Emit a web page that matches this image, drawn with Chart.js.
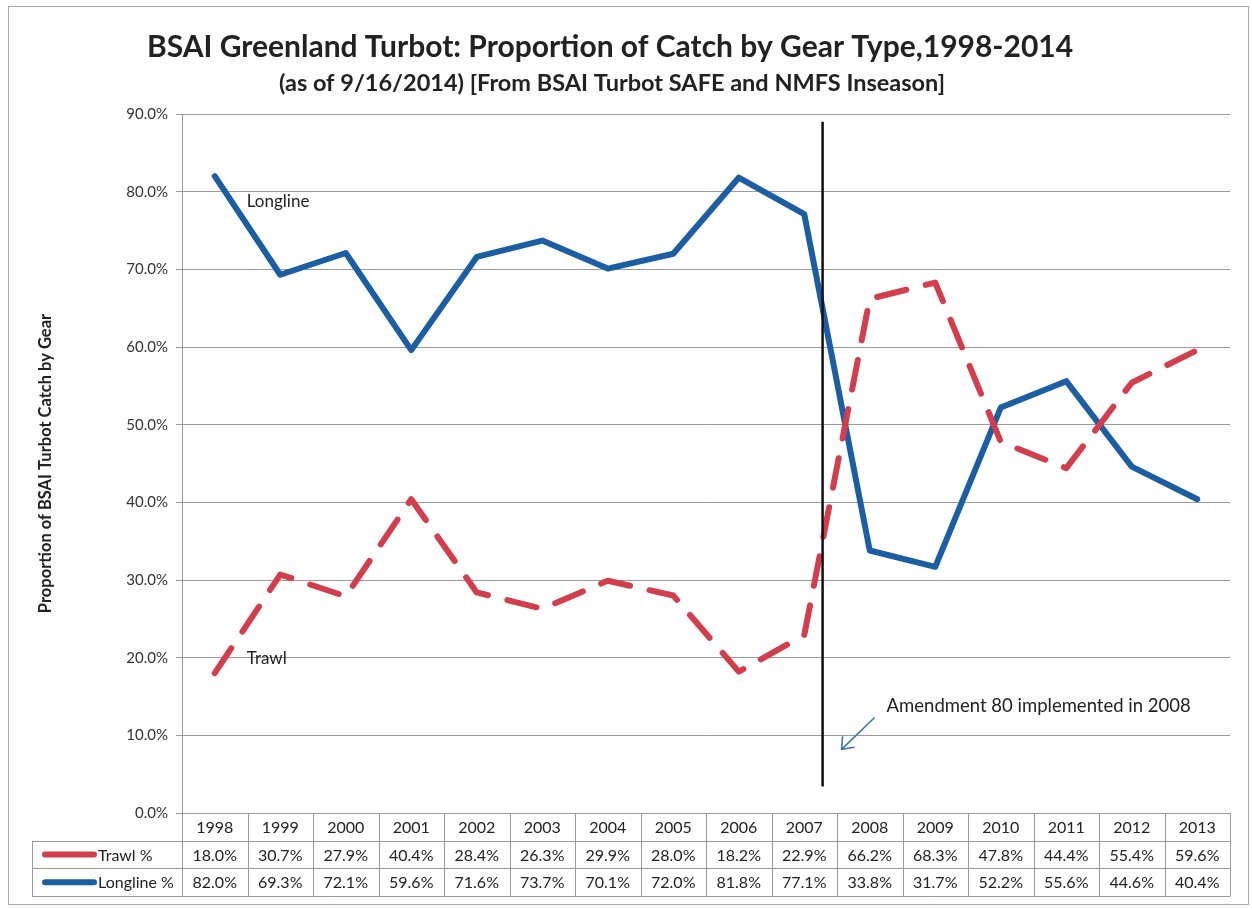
<!DOCTYPE html>
<html>
<head>
<meta charset="utf-8">
<script src="https://cdn.jsdelivr.net/npm/chart.js@4/dist/chart.umd.min.js"></script>
<style>
  html, body { margin: 0; padding: 0; background: #fff; }
  #wrap { width: 1252px; height: 909px; position: relative; }
</style>
</head>
<body>
<div id="wrap"><canvas id="chart" width="1252" height="909"></canvas></div>
<script>
// ---- data ----
const years = ['1998','1999','2000','2001','2002','2003','2004','2005','2006','2007','2008','2009','2010','2011','2012','2013'];
const trawlPct = [18.0, 30.7, 27.9, 40.4, 28.4, 26.3, 29.9, 28.0, 18.2, 22.9, 66.2, 68.3, 47.8, 44.4, 55.4, 59.6];
const longlinePct = [82.0, 69.3, 72.1, 59.6, 71.6, 73.7, 70.1, 72.0, 81.8, 77.1, 33.8, 31.7, 52.2, 55.6, 44.6, 40.4];
const yTicks = [0, 10, 20, 30, 40, 50, 60, 70, 80, 90];

const titleText = 'BSAI Greenland Turbot: Proportion of Catch by Gear Type,1998-2014';
const subtitleText = '(as of 9/16/2014) [From BSAI Turbot SAFE and NMFS Inseason]';
const noteText = 'Amendment 80 implemented in 2008';
const amendIndex = 9.28; // between 2007 and 2008

const RED = '#d43d4b';
const BLUE = '#1b5ea3';
const FONT = 'Lato, "Open Sans", sans-serif';

// ---- extra drawing: titles, frame, table, notes ----
const extras = {
  id: 'extras',
  beforeDraw(chart) {
    const ctx = chart.ctx;
    ctx.save();
    ctx.strokeStyle = '#aaa';
    ctx.lineWidth = 1;
    ctx.strokeRect(8.5, 6.5, 1240, 898);
    ctx.fillStyle = '#222';
    ctx.textAlign = 'center';
    ctx.textBaseline = 'middle';
    ctx.font = 'bold 30px ' + FONT;
    ctx.fillText(titleText, 610, 47);
    ctx.font = 'bold 23.5px ' + FONT;
    ctx.fillText(subtitleText, 612, 83);
    ctx.restore();
  },
  afterDatasetsDraw(chart) {
    const ctx = chart.ctx;
    const x = chart.scales.x, y = chart.scales.y;
    const area = chart.chartArea;
    ctx.save();

    // amendment line
    const x0 = x.getPixelForValue(Math.floor(amendIndex));
    const x1 = x.getPixelForValue(Math.floor(amendIndex) + 1);
    const lx = x0 + (x1 - x0) * (amendIndex - Math.floor(amendIndex));
    ctx.strokeStyle = '#111';
    ctx.lineWidth = 2.5;
    ctx.beginPath();
    ctx.moveTo(lx, y.getPixelForValue(89));
    ctx.lineTo(lx, y.getPixelForValue(3.4));
    ctx.stroke();

    // note + arrow
    ctx.fillStyle = '#222';
    ctx.font = '18.5px ' + FONT;
    ctx.textAlign = 'left';
    ctx.textBaseline = 'middle';
    ctx.fillText(noteText, lx + 64, y.getPixelForValue(13.8));
    const ax1 = lx + 52, ay1 = y.getPixelForValue(12.3);
    const ax2 = lx + 19, ay2 = y.getPixelForValue(8.2);
    ctx.strokeStyle = '#3f73b3';
    ctx.lineWidth = 1.6;
    ctx.beginPath();
    ctx.moveTo(ax1, ay1); ctx.lineTo(ax2, ay2);
    ctx.moveTo(ax2 + 13, ay2 - 2); ctx.lineTo(ax2, ay2); ctx.lineTo(ax2 + 1, ay2 - 13);
    ctx.stroke();

    // series labels
    ctx.font = '17px ' + FONT;
    ctx.fillStyle = '#222';
    ctx.fillText('Longline', x.getPixelForValue(0) + 32, y.getPixelForValue(longlinePct[0]) + 25);
    ctx.fillText('Trawl', x.getPixelForValue(0) + 32, y.getPixelForValue(trawlPct[0]) - 15);

    // data table
    const w = area.width / years.length;
    const top = area.bottom;
    const rowH = 27.7;
    const legL = 32;
    ctx.strokeStyle = '#9a9a9a';
    ctx.lineWidth = 1;
    ctx.beginPath();
    ctx.moveTo(area.left, Math.round(top) + 0.5); ctx.lineTo(area.right, Math.round(top) + 0.5);
    for (let r = 1; r <= 3; r++) {
      const yy = Math.round(top + rowH * r) + 0.5;
      ctx.moveTo(legL, yy); ctx.lineTo(area.right, yy);
    }
    for (let i = 0; i <= years.length; i++) {
      const xx = Math.round(area.left + w * i) + 0.5;
      ctx.moveTo(xx, top); ctx.lineTo(xx, Math.round(top + rowH * 3) + 0.5);
    }
    ctx.moveTo(legL + 0.5, Math.round(top + rowH) + 0.5);
    ctx.lineTo(legL + 0.5, Math.round(top + rowH * 3) + 0.5);
    ctx.stroke();

    ctx.font = '16px ' + FONT;
    ctx.fillStyle = '#222';
    ctx.textAlign = 'center';
    for (let i = 0; i < years.length; i++) {
      const cx = x.getPixelForValue(i);
      ctx.fillText(years[i], cx, top + rowH * 0.5 + 1);
      ctx.fillText(trawlPct[i].toFixed(1) + '%', cx, top + rowH * 1.5 + 1);
      ctx.fillText(longlinePct[i].toFixed(1) + '%', cx, top + rowH * 2.5 + 1);
    }
    const keys = [['Trawl %', RED], ['Longline %', BLUE]];
    keys.forEach((k, r) => {
      const yy = top + rowH * (1.5 + r);
      ctx.strokeStyle = k[1];
      ctx.lineWidth = 6;
      ctx.lineCap = 'round';
      ctx.beginPath();
      ctx.moveTo(legL + 13, yy); ctx.lineTo(legL + 62, yy);
      ctx.stroke();
      ctx.textAlign = 'left';
      ctx.fillStyle = '#222';
      ctx.fillText(k[0], legL + 66, yy + 1);
    });
    ctx.restore();
  }
};

new Chart(document.getElementById('chart'), {
  type: 'line',
  data: {
    labels: years,
    datasets: [
      { label: 'Trawl %', data: trawlPct, borderColor: RED, borderWidth: 6, borderDash: [30, 20],
        borderCapStyle: 'round', borderJoinStyle: 'round', pointRadius: 0, tension: 0 },
      { label: 'Longline %', data: longlinePct, borderColor: BLUE, borderWidth: 6,
        borderCapStyle: 'round', borderJoinStyle: 'round', pointRadius: 0, tension: 0 }
    ]
  },
  options: {
    responsive: false,
    animation: false,
    layout: { padding: { left: 8, right: 22, top: 114, bottom: 88 } },
    plugins: { legend: { display: false }, tooltip: { enabled: false } },
    scales: {
      x: {
        offset: true,
        ticks: { display: false },
        grid: { display: false },
        border: { display: true, color: '#999' }
      },
      y: {
        min: 0, max: 90,
        afterFit(scale) { scale.width = 174; },
        afterBuildTicks(scale) { scale.ticks = yTicks.map(v => ({ value: v })); },
        ticks: { callback: v => v.toFixed(1) + '%', font: { family: FONT, size: 15 }, color: '#333', padding: 8 },
        grid: { color: '#9a9a9a', lineWidth: 1, tickLength: 6 },
        border: { color: '#999' },
        title: { display: true, text: 'Proportion of BSAI Turbot Catch by Gear',
          font: { family: FONT, size: 16.5, weight: 'bold' }, color: '#222', padding: { top: 28, bottom: 0 } }
      }
    }
  },
  plugins: [extras]
});
</script>
</body>
</html>
